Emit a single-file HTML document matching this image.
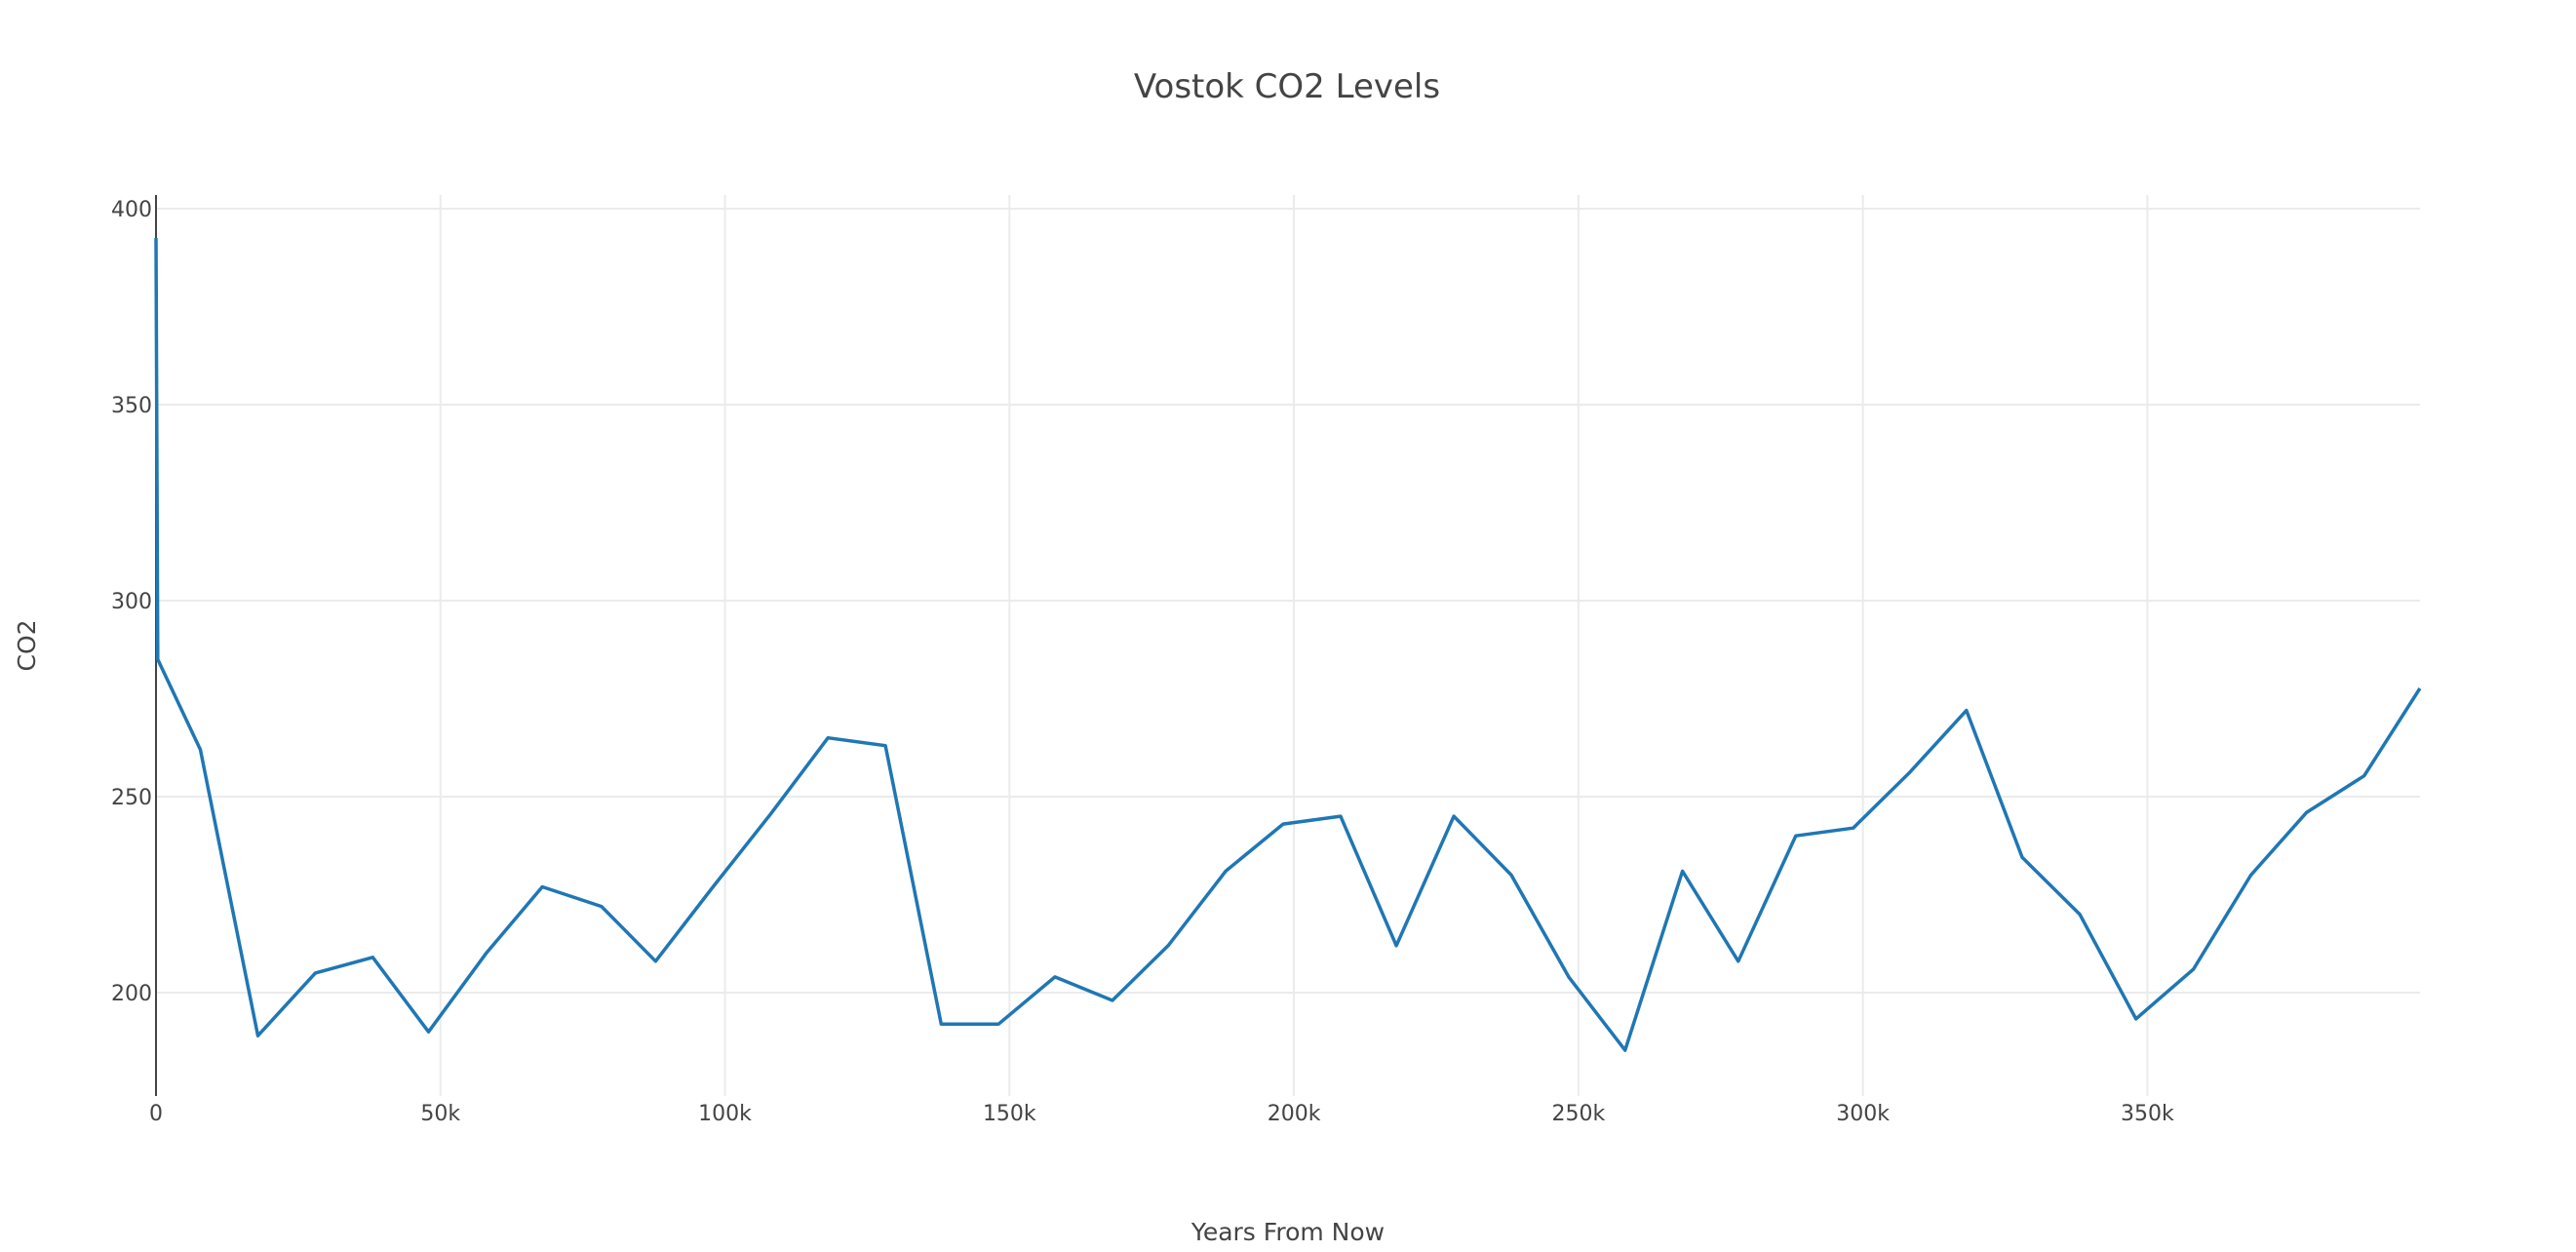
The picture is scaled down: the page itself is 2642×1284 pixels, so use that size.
<!DOCTYPE html>
<html><head><meta charset="utf-8"><style>
html,body{margin:0;padding:0;background:#fff;}
svg{display:block;font-family:"DejaVu Sans","Liberation Sans",sans-serif;}
</style></head><body>
<svg id="chart" width="2642" height="1284" xmlns="http://www.w3.org/2000/svg">
<text x="1320" y="100" text-anchor="middle" font-size="34" fill="#444">Vostok CO2 Levels</text>
<text x="1321" y="1272" text-anchor="middle" font-size="25" fill="#444">Years From Now</text>
<text transform="translate(36,662) rotate(-90)" text-anchor="middle" font-size="25" fill="#444">CO2</text>
<g id="grid"></g><g id="ticks"></g><g id="series"></g>
</svg>
<script>
const years = [0,300,7800,17900,28000,38100,47900,58000,67900,78300,87800,97900,108000,118100,128200,138000,148100,158000,168100,177900,188000,198100,208200,218000,228100,238200,248300,258200,268300,278100,288200,298300,308100,318200,328000,338100,348000,358100,368200,378000,388100,397900];
const co2 = [392.5,285,262,189,205,209,190,210,227,222,208,227,245.5,265,263,192,192,204,198,212,231,243,245,212,245,230,204,185.3,231,208,240,242,256,272,234.5,220,193.3,206,230,246,255.3,277.6];
const xTicks = [0,50000,100000,150000,200000,250000,300000,350000];
const xTickLabels = ["0","50k","100k","150k","200k","250k","300k","350k"];
const yTicks = [200,250,300,350,400];
const yTickLabels = ["200","250","300","350","400"];
const L=160,R=2482,T=200,B=1124;
const X=v=>160+v*(2202.4-160)/350000;
const Y=v=>1018-(v-200)*(1018-214)/200;
const ns="http://www.w3.org/2000/svg";
function mk(tag,attrs,parent){const e=document.createElementNS(ns,tag);for(const k in attrs)e.setAttribute(k,attrs[k]);parent.appendChild(e);return e;}
const grid=document.getElementById('grid'),ticks=document.getElementById('ticks'),series=document.getElementById('series');
xTicks.forEach((t,i)=>{
  if(t>0){const g=mk('line',{x1:X(t),x2:X(t),y1:T,y2:B,stroke:'#ebebeb','stroke-width':2},grid);
  
  }
  const tx=mk('text',{x:X(t),y:B+25,'text-anchor':'middle','font-size':22,fill:'#444'},ticks);
  tx.textContent=xTickLabels[i];
  
  
});
yTicks.forEach((t,i)=>{
  const g=mk('line',{x1:L,x2:R,y1:Y(t),y2:Y(t),stroke:'#ebebeb','stroke-width':2},grid);
  
  
  const tx=mk('text',{x:L-4,y:Y(t)+8,'text-anchor':'end','font-size':22,fill:'#444'},ticks);
  tx.textContent=yTickLabels[i];
  
  
});
const ax=mk('line',{x1:L,x2:L,y1:T,y2:B,stroke:'#444','stroke-width':2},grid);


const pts=years.map((y,i)=>X(y).toFixed(1)+','+Y(co2[i]).toFixed(1)).join(' ');
const pl=mk('polyline',{points:pts,fill:'none',stroke:'#1f77b4','stroke-width':3.5,'stroke-linejoin':'round'},series);


</script>
</body></html>
